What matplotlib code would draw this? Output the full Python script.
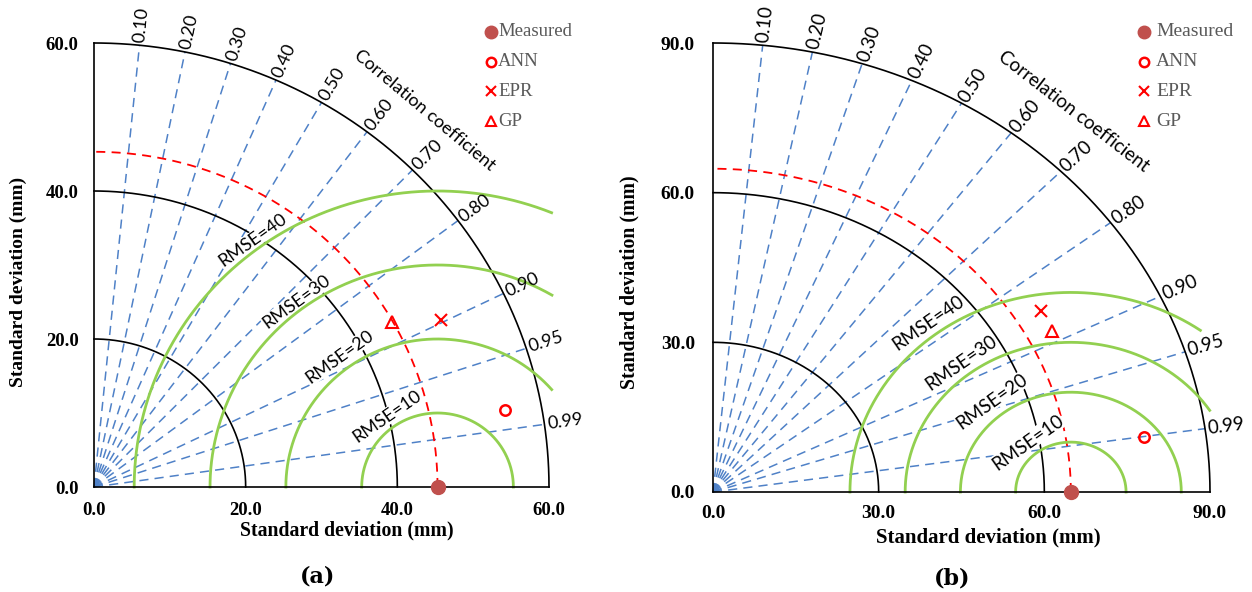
import numpy as np
import matplotlib
matplotlib.use("Agg")
import matplotlib.pyplot as plt
from matplotlib import transforms

W, H = 1252, 592

# correlation ticks and RMSE contours shared by both diagrams
CORR_TICKS = [0.10, 0.20, 0.30, 0.40, 0.50, 0.60, 0.70, 0.80, 0.90, 0.95, 0.99]
RMSE_LEVELS = [10, 20, 30, 40]
MODELS = ["ANN", "EPR", "GP"]

# panel (a)
A_TICKS = [0.0, 20.0, 40.0, 60.0]
A_MEASURED = 45.3
A_STD = [55.2, 51.0, 45.2]
A_CORR = [0.982, 0.897, 0.870]

# panel (b)
B_TICKS = [0.0, 30.0, 60.0, 90.0]
B_MEASURED = 64.8
B_STD = [78.8, 69.6, 69.4]
B_CORR = [0.990, 0.854, 0.885]

# where the RMSE labels sit (data coords, one per contour)
A_RMSE_LABEL_XY = [(38.6, 9.5), (32.4, 17.6), (26.7, 25.0), (21.0, 33.4)]
B_RMSE_LABEL_XY = [(57.0, 10.0), (50.5, 18.2), (44.9, 25.9), (38.9, 33.9)]

BLUE = "#4f81c7"
GREEN = "#92d050"
RED = "#ff0000"
BROWN = "#c0504d"
GRAY = "#595959"

SERIF = "Liberation Serif"
SANS = "Lato"

MARKERS = {
    "Measured": dict(marker="o", ms=10, mfc=BROWN, mec=BROWN),
    "ANN": dict(marker="o", ms=7.5, mfc="none", mec=RED, mew=1.8),
    "EPR": dict(marker="x", ms=8.5, mfc="none", mec=RED, mew=1.5),
    "GP": dict(marker="^", ms=8.5, mfc="none", mec=RED, mew=1.5),
}


def px_axes(fig, left, right, top, bottom):
    return fig.add_axes([left / W, 1 - bottom / H, (right - left) / W, (bottom - top) / H])


def disp_angle(ax, dx, dy):
    (sx, sy) = ax.transData.transform((1, 1)) - ax.transData.transform((0, 0))
    return np.degrees(np.arctan2(dy * sy, dx * sx))


def draw_panel(fig, ax, ticks, measured, std, corr, arc_xmax, label_xy, tick_fs, sans_fs, xpad, ypad):
    R = ticks[-1]
    ax.set_xlim(0, R)
    ax.set_ylim(0, R)
    ax.patch.set_alpha(0)
    for s in ("top", "right"):
        ax.spines[s].set_visible(False)
    for s in ("left", "bottom"):
        ax.spines[s].set_linewidth(1.2)
        ax.spines[s].set_zorder(6)
    labels = [f"{t:.1f}" for t in ticks]
    tick_font = dict(family=SERIF, fontweight="bold", fontsize=tick_fs)
    ax.set_xticks(ticks, labels, **tick_font)
    ax.set_yticks(ticks, labels, **tick_font)
    ax.tick_params(axis="x", length=0, pad=xpad)
    ax.tick_params(axis="y", length=0, pad=ypad)

    th = np.linspace(0, np.pi / 2, 300)
    # standard deviation arcs
    for r in ticks[1:]:
        ax.plot(r * np.cos(th), r * np.sin(th), color="black", lw=1.2, zorder=2, clip_on=False)
    # measured std arc
    ax.plot(measured * np.cos(th), measured * np.sin(th), color=RED, lw=1.3,
            ls=(0, (5, 3.5)), zorder=2.5, clip_on=False)

    # correlation rays
    for c in CORR_TICKS:
        s = np.sqrt(1 - c ** 2)
        ax.plot([0, R * c], [0, R * s], color=BLUE, lw=1.1, ls=(0, (6, 4)), zorder=1, clip_on=False)
        ang = disp_angle(ax, c, s)
        off = transforms.offset_copy(ax.transData, fig, x=3 * np.cos(np.radians(ang)),
                                     y=3 * np.sin(np.radians(ang)), units="dots")
        ax.text(R * c, R * s, f"{c:.2f}", transform=off, rotation=ang, rotation_mode="anchor",
                ha="left", va="center", fontsize=sans_fs, family=SANS, zorder=7)

    t_cc = np.radians(49.4)
    ax.text(1.116 * R * np.cos(t_cc), 1.116 * R * np.sin(t_cc), "Correlation coefficient",
            rotation=disp_angle(ax, np.sin(t_cc), -np.cos(t_cc)), rotation_mode="anchor",
            ha="center", va="center", fontsize=sans_fs, family=SANS, zorder=7)

    # RMSE contours around the measured point
    phi = np.linspace(0, np.pi, 600)
    for k, rm in enumerate(RMSE_LEVELS):
        x = measured + rm * np.cos(phi)
        y = rm * np.sin(phi)
        keep = x <= arc_xmax[k]
        ax.plot(x[keep], y[keep], color=GREEN, lw=2.0, zorder=4, clip_on=False)

        lx, ly = label_xy[k]
        p = np.arctan2(ly, lx - measured)
        ang = disp_angle(ax, np.sin(p), -np.cos(p))
        ax.text(lx, ly, f"RMSE={rm}", rotation=ang, rotation_mode="anchor",
                ha="center", va="center", fontsize=sans_fs, family=SANS, zorder=3,
                bbox=dict(fc="white", ec="none", pad=0.3))

    # models and measured point
    for name, sd, c in zip(MODELS, std, corr):
        ax.plot([sd * c], [sd * np.sqrt(1 - c ** 2)], ls="none", zorder=5, clip_on=False,
                **MARKERS[name])
    ax.plot([measured], [0], ls="none", zorder=8, clip_on=False, **MARKERS["Measured"])


def draw_legend(fig, x_mark, x_text, fs):
    rows = [32, 62, 91, 121]
    for name, y in zip(["Measured"] + MODELS, rows):
        fig.lines.append(plt.Line2D([x_mark / W], [1 - y / H], transform=fig.transFigure,
                                    ls="none", **{**MARKERS[name], "ms": MARKERS[name]["ms"] * 0.9}))
        fig.text(x_text / W, 1 - y / H, name, ha="left", va="center", family=SERIF,
                 fontsize=fs, color=GRAY)


fig = plt.figure(figsize=(W / 100, H / 100), dpi=100)

ax_a = px_axes(fig, 94, 549, 43, 487)
draw_panel(fig, ax_a, A_TICKS, A_MEASURED, A_STD, A_CORR, [60.4] * 4, A_RMSE_LABEL_XY,
           tick_fs=13.5, sans_fs=13, xpad=10.5, ypad=11)
ax_b = px_axes(fig, 713, 1210, 43, 492)
draw_panel(fig, ax_b, B_TICKS, B_MEASURED, B_STD, B_CORR, [90.0, 90.0, 90.0, 88.4], B_RMSE_LABEL_XY,
           tick_fs=14, sans_fs=13.5, xpad=9, ypad=13)

draw_legend(fig, 491, 498, 13.5)
draw_legend(fig, 1144, 1156, 14)

for (xc, yc, fs) in [(347, 530, 14.2), (988, 537, 15)]:
    fig.text(xc / W, 1 - yc / H, "Standard deviation (mm)", ha="center", va="center",
             family=SERIF, weight="bold", fontsize=fs)
for (xc, yc, fs) in [(18, 282, 14), (629, 282, 14.2)]:
    fig.text(xc / W, 1 - yc / H, "Standard deviation (mm)", ha="center", va="center",
             rotation=90, family=SERIF, weight="bold", fontsize=fs)

fig.text(318 / W, 1 - 577 / H, "(a)", ha="center", va="center", family="DejaVu Serif",
         weight="bold", fontsize=16)
fig.text(952 / W, 1 - 578 / H, "(b)", ha="center", va="center", family="DejaVu Serif",
         weight="bold", fontsize=16)

fig.savefig("out.png", dpi=100, facecolor="white")
